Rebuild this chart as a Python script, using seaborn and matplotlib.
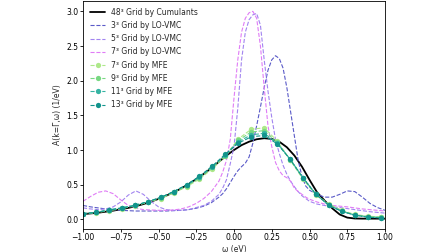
import matplotlib
matplotlib.use("Agg")
import matplotlib.pyplot as plt
import seaborn as sns

# =========================
# DATA
# =========================
omega_cum = [-1.00, -0.95, -0.90, -0.85, -0.80, -0.75, -0.70, -0.65, -0.60, -0.55,
             -0.50, -0.45, -0.40, -0.35, -0.30, -0.25, -0.20, -0.15, -0.10, -0.05,
             0.00, 0.05, 0.10, 0.15, 0.20, 0.25, 0.30, 0.35, 0.40, 0.45,
             0.50, 0.55, 0.60, 0.65, 0.70, 0.75, 0.80, 0.85, 0.90, 0.95, 1.00]
a_cum48 = [0.075, 0.085, 0.095, 0.11, 0.125, 0.145, 0.165, 0.19, 0.22, 0.255,
           0.295, 0.34, 0.39, 0.445, 0.51, 0.58, 0.655, 0.74, 0.83, 0.92,
           1.00, 1.07, 1.12, 1.155, 1.17, 1.16, 1.12, 1.04, 0.92, 0.76,
           0.57, 0.39, 0.27, 0.16, 0.07, 0.025, 0.012, 0.01, 0.01, 0.01, 0.01]

omega_vmc = [-1.00, -0.95, -0.90, -0.85, -0.80, -0.75, -0.70, -0.65, -0.60, -0.55,
             -0.50, -0.45, -0.40, -0.35, -0.30, -0.25, -0.20, -0.15, -0.10,
             -0.075, -0.05, -0.025, 0.000, 0.025, 0.050, 0.075, 0.100, 0.125,
             0.150, 0.175, 0.200, 0.225, 0.250, 0.275, 0.300, 0.325, 0.350,
             0.375, 0.400, 0.425, 0.450, 0.475, 0.500,
             0.55, 0.60, 0.65, 0.70, 0.75, 0.80, 0.85, 0.90, 0.95, 1.00]
a_vmc3 = [0.20, 0.18, 0.165, 0.15, 0.14, 0.13, 0.125, 0.12, 0.12, 0.12,
          0.12, 0.12, 0.125, 0.13, 0.14, 0.16, 0.19, 0.24, 0.32,
          0.37, 0.44, 0.53, 0.62, 0.70, 0.76, 0.81, 0.90, 1.10,
          1.35, 1.62, 1.90, 2.15, 2.30, 2.36, 2.32, 2.18, 1.90,
          1.55, 1.20, 0.85, 0.62, 0.48, 0.42,
          0.36, 0.32, 0.32, 0.36, 0.41, 0.40, 0.32, 0.23, 0.17, 0.13]
a_vmc5 = [0.165, 0.15, 0.14, 0.15, 0.18, 0.25, 0.35, 0.41, 0.36, 0.26,
          0.18, 0.14, 0.13, 0.13, 0.14, 0.17, 0.20, 0.26, 0.36,
          0.45, 0.57, 0.80, 1.05, 1.60, 2.30, 2.70, 2.88, 2.95,
          2.97, 2.80, 2.30, 1.85, 1.47, 1.15, 0.95, 0.78, 0.65,
          0.55, 0.47, 0.40, 0.34, 0.30, 0.26,
          0.22, 0.20, 0.18, 0.17, 0.155, 0.14, 0.125, 0.11, 0.10, 0.09]
a_vmc7 = [0.26, 0.33, 0.39, 0.41, 0.37, 0.28, 0.20, 0.16, 0.14, 0.135,
          0.13, 0.13, 0.135, 0.15, 0.18, 0.23, 0.30, 0.40, 0.55,
          0.68, 0.85, 1.15, 1.75, 2.30, 2.70, 2.90, 2.98, 3.00,
          2.90, 2.50, 1.90, 1.35, 1.05, 0.82, 0.70, 0.63, 0.60,
          0.55, 0.45, 0.40, 0.36, 0.32, 0.29,
          0.25, 0.22, 0.20, 0.19, 0.18, 0.165, 0.15, 0.14, 0.13, 0.12]

omega_mfe = [-1.000, -0.914, -0.829, -0.743, -0.657, -0.571, -0.486, -0.400,
             -0.314, -0.229, -0.143, -0.057, 0.029, 0.114, 0.200, 0.286,
             0.371, 0.457, 0.543, 0.629, 0.714, 0.800, 0.886, 0.971]
a_mfe7 = [0.08, 0.095, 0.125, 0.155, 0.195, 0.245, 0.30, 0.38,
          0.47, 0.58, 0.73, 0.91, 1.16, 1.30, 1.32, 1.13,
          0.86, 0.58, 0.35, 0.22, 0.13, 0.07, 0.045, 0.035]
a_mfe9 = [0.08, 0.10, 0.13, 0.16, 0.20, 0.25, 0.31, 0.39,
          0.48, 0.60, 0.75, 0.92, 1.14, 1.26, 1.28, 1.11,
          0.86, 0.59, 0.36, 0.21, 0.12, 0.065, 0.04, 0.03]
a_mfe11 = [0.08, 0.10, 0.135, 0.165, 0.20, 0.255, 0.315, 0.40,
           0.49, 0.61, 0.76, 0.93, 1.12, 1.22, 1.24, 1.10,
           0.87, 0.60, 0.36, 0.20, 0.115, 0.06, 0.035, 0.025]
a_mfe13 = [0.08, 0.10, 0.135, 0.165, 0.20, 0.255, 0.315, 0.40,
           0.50, 0.62, 0.77, 0.94, 1.10, 1.19, 1.21, 1.09,
           0.87, 0.60, 0.36, 0.20, 0.115, 0.06, 0.03, 0.02]

cum_label = '48³ Grid by Cumulants'
vmc_labels = ['3³ Grid by LO-VMC', '5³ Grid by LO-VMC', '7³ Grid by LO-VMC']
mfe_labels = ['7³ Grid by MFE', '9³ Grid by MFE',
              '11³ Grid by MFE', '13³ Grid by MFE']

vmc_colors = ['#5a5ac8', '#a284f0', '#e07cf6']
mfe_colors = ['#aee88a', '#78d882', '#35b3a2', '#12948c']

# =========================
# PLOTTING
# =========================
sns.set_style('ticks')
plt.rcParams['font.family'] = ['DejaVu Sans']
plt.rcParams['font.size'] = 5.5
plt.rcParams['axes.linewidth'] = 0.6
plt.rcParams['axes.edgecolor'] = 'black'
plt.rcParams['xtick.major.size'] = 2
plt.rcParams['ytick.major.size'] = 2
plt.rcParams['xtick.major.width'] = 0.6
plt.rcParams['ytick.major.width'] = 0.6
plt.rcParams['xtick.color'] = 'black'
plt.rcParams['ytick.color'] = 'black'

fig = plt.figure(figsize=(4.48, 2.52), dpi=100)
ax = fig.add_axes([83 / 448, 1 - 229 / 252, 302 / 448, 228 / 252])

sns.lineplot(x=omega_cum, y=a_cum48, color='black', linewidth=1.3,
             label=cum_label, ax=ax)

for vals, lab, col in zip([a_vmc3, a_vmc5, a_vmc7], vmc_labels, vmc_colors):
    sns.lineplot(x=omega_vmc, y=vals, color=col, linewidth=0.8,
                 linestyle='--', label=lab, ax=ax)

for vals, lab, col in zip([a_mfe7, a_mfe9, a_mfe11, a_mfe13], mfe_labels, mfe_colors):
    sns.lineplot(x=omega_mfe, y=vals, color=col, linewidth=0.8,
                 linestyle='--', marker='o', markersize=3.8,
                 markeredgewidth=0, label=lab, ax=ax)

# =========================
# FORMATTING
# =========================
ax.set_xlim(-1, 1)
ax.set_xlabel('ω (eV)', labelpad=1.5)
ax.set_ylabel('A(k=Γ,ω) (1/eV)', labelpad=3)
ax.tick_params(labelsize=5.5, pad=1.2)
ax.legend(loc='upper left', frameon=False, fontsize=5.5, labelspacing=0.55)

fig.savefig('out.png', dpi=100)
